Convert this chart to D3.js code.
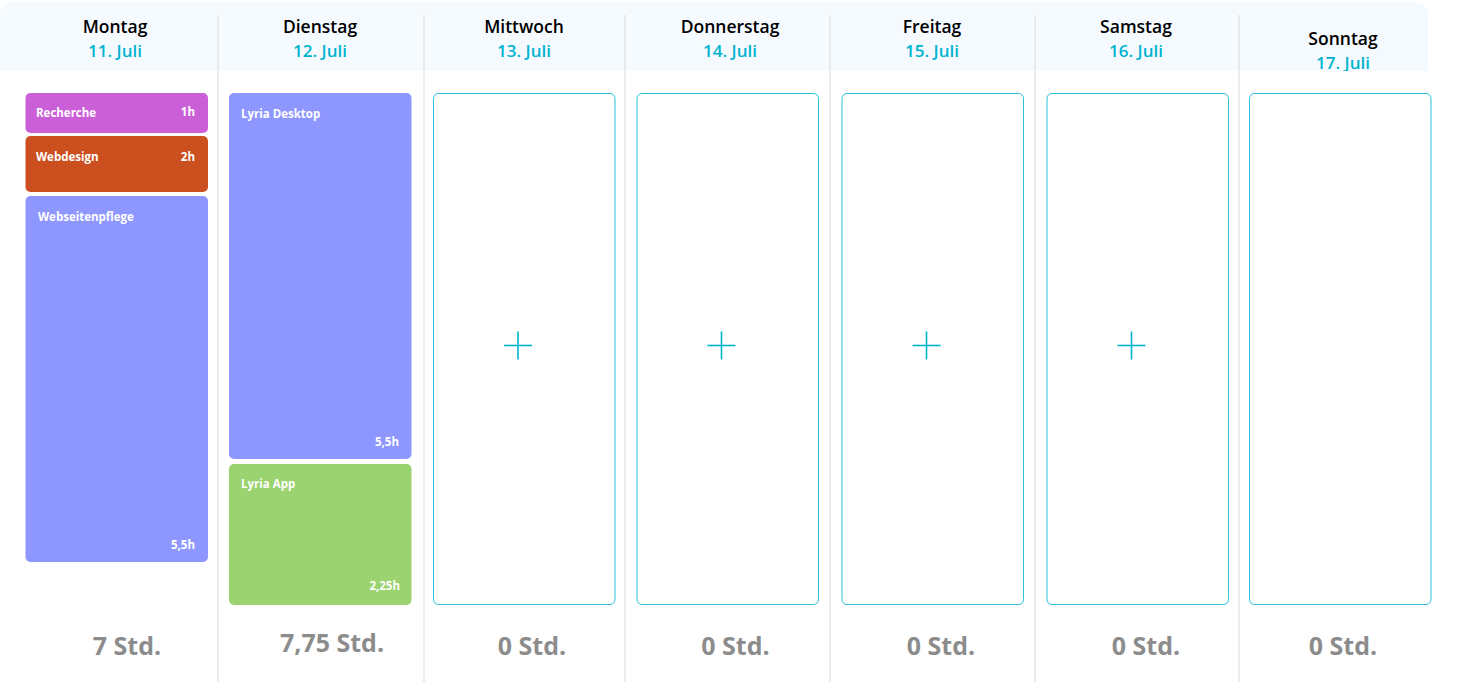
<!DOCTYPE html>
<html>
<head>
<meta charset="utf-8">
<script src="https://cdn.jsdelivr.net/npm/d3@7"></script>
<style>
  html, body { margin: 0; padding: 0; background: #fff; overflow: hidden; }
  text { font-family: "Open Sans", "Noto Sans", sans-serif; }
</style>
</head>
<body>
<div id="week"></div>
<script>
const days = ['Montag', 'Dienstag', 'Mittwoch', 'Donnerstag', 'Freitag', 'Samstag', 'Sonntag'];
const dates = ['11. Juli', '12. Juli', '13. Juli', '14. Juli', '15. Juli', '16. Juli', '17. Juli'];
// as printed in the picture, Montag does not add up to its blocks
const totals = ['7', '7,75', '0', '0', '0', '0', '0'];

const montagTasks = ['Recherche', 'Webdesign', 'Webseitenpflege'];
const montagHours = [1, 2, 5.5];
const dienstagTasks = ['Lyria Desktop', 'Lyria App'];
const dienstagHours = [5.5, 2.25];

const taskColors = {
  'Recherche': '#cb5fd8',
  'Webdesign': '#cb4f1f',
  'Webseitenpflege': '#8e97ff',
  'Lyria Desktop': '#8e97ff',
  'Lyria App': '#9ad36f'
};

const width = 1479, height = 682;
const teal = '#00b4d0';

const svg = d3.select('#week').append('svg')
    .attr('width', width)
    .attr('height', height)
    .style('display', 'block');

// the columns in the screenshot are not evenly spaced
const colX = d3.scaleOrdinal().domain(days).range([25.5, 229, 433, 636.5, 841.5, 1046.5, 1249]);
const dividerX = d3.scaleOrdinal().domain(days.slice(1)).range([218, 424, 625, 830, 1035, 1239]);
const headX = d3.scaleOrdinal().domain(days).range([115, 320, 524, 730, 932, 1136, 1343]);
const headY = d3.scaleOrdinal().domain(days).range([33, 33, 33, 33, 33, 33, 45]);
const totalX = d3.scaleOrdinal().domain(days).range([127, 332, 532, 735.5, 941, 1146, 1343]);
const totalY = d3.scaleOrdinal().domain(days).range([655, 652, 655, 655, 655, 655, 655]);
const plusX = d3.scaleOrdinal().domain(days).range([0, 0, 518, 721.5, 926.5, 1131.5, 1343]);

// block height is not linear in the hours, the short ones get a minimum height
const blockH = d3.scaleLinear().domain([1, 2, 2.25, 5.5]).range([40, 56, 141, 366]);
const colW = 182.5, blockTop = 93, blockBottom = 605;

// header band
svg.append('rect')
    .attr('x', 0).attr('y', 2)
    .attr('width', 1428).attr('height', 69)
    .attr('rx', 12)
    .attr('fill', '#f5faff');
svg.append('rect')
    .attr('x', 0).attr('y', 20)
    .attr('width', 1428).attr('height', 51)
    .attr('fill', '#f5faff');

svg.selectAll('.divider')
  .data(days.slice(1))
  .join('line')
    .attr('class', 'divider')
    .attr('x1', d => dividerX(d)).attr('x2', d => dividerX(d))
    .attr('y1', 15).attr('y2', height)
    .attr('stroke', '#e3e6e9')
    .attr('stroke-width', 1.5);

svg.selectAll('.dayName')
  .data(days)
  .join('text')
    .attr('class', 'dayName')
    .attr('x', d => headX(d))
    .attr('y', d => headY(d))
    .attr('text-anchor', 'middle')
    .attr('font-size', 17.5)
    .attr('font-weight', 600)
    .attr('fill', '#000')
    .text(d => d);

// date labels stop at the bottom of the header band
svg.append('clipPath').attr('id', 'headClip')
  .append('rect').attr('x', 0).attr('y', 0).attr('width', width).attr('height', 71);

svg.append('g').attr('clip-path', 'url(#headClip)')
  .selectAll('text')
  .data(days)
  .join('text')
    .attr('x', d => headX(d))
    .attr('y', d => headY(d) + 24)
    .attr('text-anchor', 'middle')
    .attr('font-size', 17)
    .attr('font-weight', 600)
    .attr('fill', teal)
    .text((d, i) => dates[i]);

// filled days
function stack(day, tasks, hours, gaps, labelInset, hourInset) {
  let y = blockTop;
  const data = tasks.map((t, i) => {
    const h = blockH(hours[i]);
    const row = { task: t, hours: hours[i], y: y, h: h, i: i };
    y += h + gaps[i];
    return row;
  });

  const g = svg.selectAll(`.b${day}`)
    .data(data)
    .join('g')
      .attr('class', `b${day}`)
      .attr('transform', d => `translate(${colX(day)},${d.y})`);

  g.append('rect')
      .attr('width', colW)
      .attr('height', d => d.h)
      .attr('rx', 5)
      .attr('fill', d => taskColors[d.task]);

  g.append('text')
      .attr('x', d => labelInset[d.i])
      .attr('y', d => d.hours == 2.25 ? 24 : (d.h > 45 ? 25 : 24))
      .attr('font-size', 11.5)
      .attr('font-weight', 700)
      .attr('fill', '#fff')
      .text(d => d.task);

  g.append('text')
      .attr('x', d => colW - hourInset[d.i])
      .attr('y', d => d.h > 100 ? d.h - (d.hours == 2.25 ? 15 : 13) : (d.h > 45 ? 25 : 23))
      .attr('text-anchor', 'end')
      .attr('font-size', 11.5)
      .attr('font-weight', 700)
      .attr('fill', '#fff')
      .text(d => `${d.hours}`.replace('.', ',') + 'h');
}

stack('Montag', montagTasks, montagHours, [3, 4, 0], [10.5, 10.5, 12.5], [13, 13, 13]);
stack('Dienstag', dienstagTasks, dienstagHours, [5, 0], [12, 12], [12.5, 11.5]);

// empty days
const emptyDays = days.slice(2);

svg.selectAll('.slot')
  .data(emptyDays)
  .join('rect')
    .attr('class', 'slot')
    .attr('x', d => colX(d) + 0.5)
    .attr('y', blockTop + 0.5)
    .attr('width', colW - 1)
    .attr('height', blockBottom - blockTop - 1)
    .attr('rx', 5)
    .attr('fill', '#fff')
    .attr('stroke', '#27c0dc')
    .attr('stroke-width', 1);

const plus = svg.selectAll('.plus')
  .data(emptyDays.slice(0, 4))
  .join('g')
    .attr('class', 'plus')
    .attr('transform', d => `translate(${plusX(d)},345.5)`)
    .attr('stroke', teal)
    .attr('stroke-width', 1.6);
plus.append('line').attr('x1', -14).attr('x2', 14);
plus.append('line').attr('y1', -14).attr('y2', 14);

// totals under each column
svg.selectAll('.total')
  .data(days)
  .join('text')
    .attr('class', 'total')
    .attr('x', d => totalX(d))
    .attr('y', d => totalY(d))
    .attr('text-anchor', 'middle')
    .attr('font-size', 25)
    .attr('font-weight', 700)
    .attr('fill', '#8c8c8c')
    .text((d, i) => totals[i] + ' Std.');
</script>
</body>
</html>
